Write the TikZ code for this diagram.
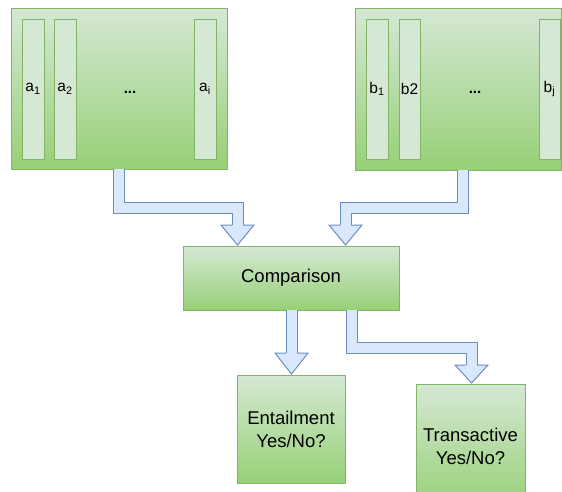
\documentclass[tikz,border=0pt]{standalone}
\usepackage{fontspec}
\setmainfont{Liberation Sans}
\usetikzlibrary{calc}
\definecolor{gtop}{HTML}{D5E8D4}
\definecolor{gbot}{HTML}{97D077}
\definecolor{gline}{HTML}{82B366}
\definecolor{bfill}{HTML}{DAE8FC}
\definecolor{bline}{HTML}{6C8EBF}
\tikzset{
  greenbox/.style={rectangle, draw=gline, line width=1pt, top color=gtop, bottom color=gbot,
    inner sep=0pt, outer sep=0pt, align=center, font=\fontsize{18.5}{23}\selectfont},
  slot/.style={rectangle, draw=gline, line width=1pt, fill=gtop, minimum width=22pt,
    minimum height=140pt, inner sep=0pt, font=\fontsize{15.5}{17}\selectfont},
  dots/.style={font=\fontsize{15}{17}\selectfont\bfseries, inner sep=0pt},
  shaft/.style={draw=bline, line width=1pt, double=bfill, double distance=10pt, line join=miter},
  head/.style={draw=bline, fill=bfill, line width=1pt, line join=miter},
}
% arrow head of a block arrow: #1 = tip, #2 = head length
\newcommand\blockhead[2]{%
  \path[head] (#1) ++(-5.5,-#2) -- ++(-11,0) -- (#1) -- ++(16.5,-#2) -- ++(-11,0);}
\begin{document}
\begin{tikzpicture}[x=1pt, y=-1pt]
  \useasboundingbox (0,0) rectangle (562,491);
  \clip (0,0) rectangle (562,491);
  \fill[white] (0,0) rectangle (562,491);

  % input blocks
  \node[greenbox, minimum width=216pt, minimum height=161pt] (L) at (119,88.5) {};
  \node[slot] (a1) at (33,89) {a\textsubscript{1}};
  \node[slot] (a2) at (65,89) {a\textsubscript{2}};
  \node[dots] (ad) at (130,92) {...};
  \node[slot] (ai) at (205,89) {a\textsubscript{i}};

  \node[greenbox, minimum width=206pt, minimum height=162pt] (R) at (458,89) {};
  \node[slot] (b1) at (377,89) {b\textsubscript{1}};
  \node[slot, minimum width=21pt] (b2) at (409.5,89) {b2};
  \node[dots] (bd) at (475,92) {...};
  \node[slot, minimum width=21pt] (bj) at (549.5,89) {b\textsubscript{j}};

  % comparison and outputs
  \node[greenbox, minimum width=216pt, minimum height=64pt] (C) at (291,278) {Comparison};
  \node[greenbox, minimum width=108pt, minimum height=108pt] (E) at (291,429) {Entailment\\Yes/No?};
  \node[greenbox, minimum width=109pt, minimum height=124pt] (T) at (470.5,446) {Transactive\\Yes/No?};

  % arrow tips
  \coordinate (t1) at ($(C.north)+(-53.5,-1)$);
  \coordinate (t2) at ($(C.north)+(54.5,-1)$);
  \coordinate (t3) at ($(E.north)+(0.5,-1)$);
  \coordinate (t4) at ($(T.north)+(1,-1)$);

  % block arrows
  \draw[shaft] (L.south) |- ($(t1)+(0,-37)$) -- ($(t1)+(0,-19.5)$);
  \blockhead{t1}{20}
  \draw[shaft] ($(R.south)+(5,0)$) |- ($(t2)+(0,-37)$) -- ($(t2)+(0,-19.5)$);
  \blockhead{t2}{20}
  \draw[shaft] (C.south -| t3) -- ($(t3)+(0,-20.5)$);
  \blockhead{t3}{21}
  \draw[shaft] ($(C.south)+(60.5,0)$) |- ($(t4)+(0,-35)$) -- ($(t4)+(0,-17.5)$);
  \blockhead{t4}{18}
\end{tikzpicture}
\end{document}
